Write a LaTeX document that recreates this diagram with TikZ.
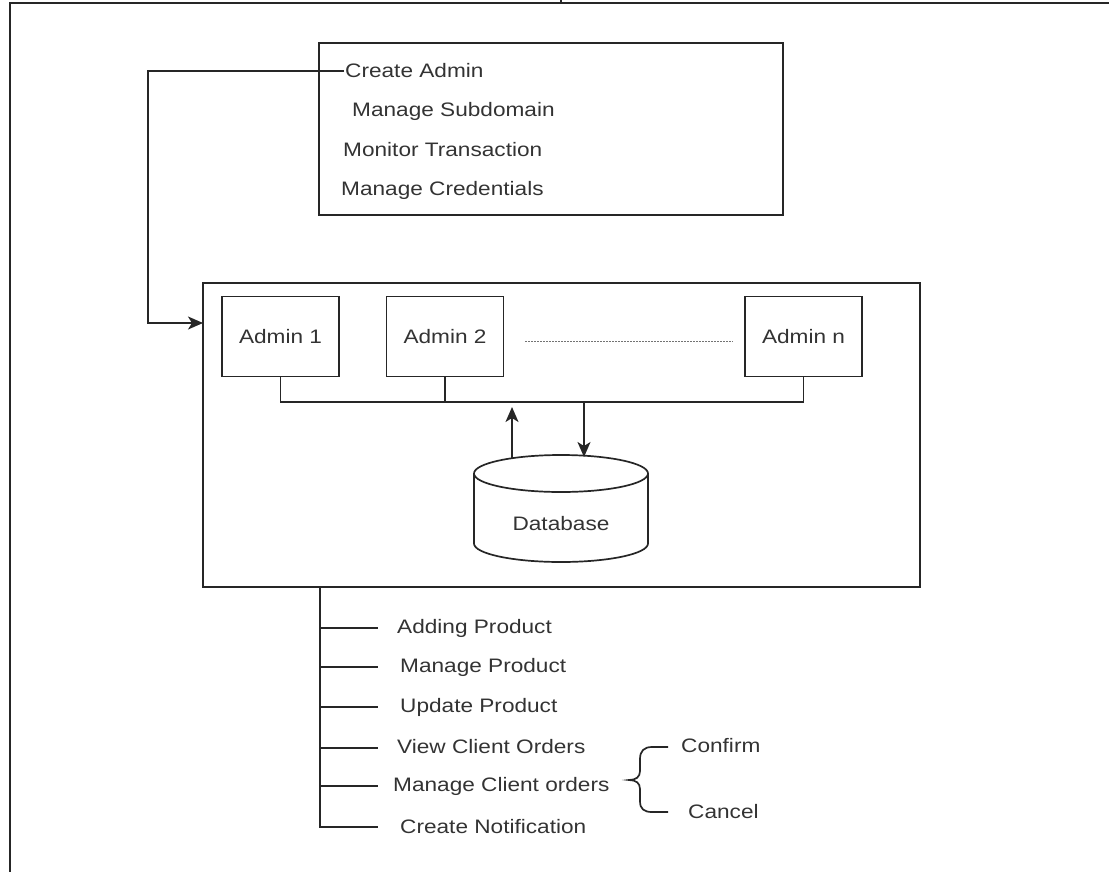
\documentclass[tikz,border=0pt]{standalone}
\usepackage{fontspec}
\setmainfont{Liberation Sans}
\usetikzlibrary{arrows.meta}
\newcommand{\sx}[1]{\scalebox{1.16}[1]{#1}}
\begin{document}
\begin{tikzpicture}[x=1pt,y=-1pt,
 ln/.style={line width=1.7pt, draw=black!85},
 lbl/.style={font=\fontsize{19.5}{23}\selectfont, inner sep=1pt, text=black!80},
 bx/.style={ln, rectangle, inner sep=0pt},
 adm/.style={bx, lbl, minimum width=117pt, minimum height=80pt},
 arr/.style={ln, -{Stealth[length=15pt,width=13pt,inset=4pt]}}]
\useasboundingbox (0,0) rectangle (1109,871);
% outer frame
\draw[ln] (1112,3) -- (10,3) -- (10,875);
\draw[ln] (561,-2) -- (561,3);
% top box
\node[bx, minimum width=464pt, minimum height=172pt] (tb) at (551,129) {};
\node[lbl, anchor=west] (ca) at (344,71) {\sx{Create Admin}};
\node[lbl, anchor=west] (ms) at (351,111) {\sx{Manage Subdomain}};
\node[lbl, anchor=west] (mt) at (342,150) {\sx{Monitor Transaction}};
\node[lbl, anchor=west] (mc) at (340,190) {\sx{Manage Credentials}};
% container
\node[bx, minimum width=717pt, minimum height=304pt] (cont) at (561.5,435) {};
\coordinate (bend) at (148,71);
\coordinate (ain) at (203,323);
\draw[arr] (ca.west) -- (bend) |- (ain);
% admins
\node[adm] (a1) at (280.5,336.5) {\sx{Admin 1}};
\node[adm] (a2) at (445,336.5) {\sx{Admin 2}};
\node[adm] (an) at (803.5,336.5) {\sx{Admin n}};
\draw[line width=1pt, black!55, dash pattern=on 1.5pt off 1.5pt] ([xshift=21pt]a2.east |- 0,341) -- ([xshift=-11pt]an.west |- 0,341);
\coordinate (bus) at (280,402);
\draw[ln] (a1.south) -- (a1.south |- bus) -- (an.south |- bus) -- (an.south);
\draw[ln] (a2.south) -- (a2.south |- bus);
% database
\draw[ln, fill=white] (474,473.5) -- (474,543.5) arc[start angle=180, end angle=360, x radius=87pt, y radius=18.5pt] -- (648,473.5);
\draw[ln] (561,473.5) ellipse[x radius=87pt, y radius=18.5pt];
\node[lbl] (db) at (561,524) {\sx{Database}};
\coordinate (dbup) at (512,458);
\coordinate (upend) at (512,407);
\coordinate (dbdn) at (584,457);
\draw[arr] (dbup) -- (upend);
\draw[arr] (dbdn |- bus) -- (dbdn);
% bottom tree
\coordinate (trunk) at (320,828);
\draw[ln] (cont.south -| trunk) -- (trunk);
\node[lbl, anchor=west] (p1) at (396,628) {\sx{Adding Product}};
\node[lbl, anchor=west] (p2) at (399,667) {\sx{Manage Product}};
\node[lbl, anchor=west] (p3) at (399,707) {\sx{Update Product}};
\node[lbl, anchor=west] (p4) at (396,747) {\sx{View Client Orders}};
\node[lbl, anchor=west] (p5) at (392,786) {\sx{Manage Client orders}};
\node[lbl, anchor=west] (p6) at (399,827) {\sx{Create Notification}};
\foreach \n/\yy in {p1/628,p2/667,p3/707,p4/748,p5/786,p6/827}
  \draw[ln] (320,\yy) -- (378,\yy);
% brace
\draw[ln] (668,747) -- (652,747) .. controls (644,747) and (640,751) .. (640,759) -- (640,771) .. controls (640,777) and (636,780) .. (629,780)
  .. controls (636,780) and (640,783) .. (640,789) -- (640,801) .. controls (640,809) and (644,812) .. (652,812) -- (668,812);
\node[lbl, anchor=west] (cf) at (680,746) {\sx{Confirm}};
\node[lbl, anchor=west] (cn) at (687,812) {\sx{Cancel}};
\end{tikzpicture}
\end{document}
